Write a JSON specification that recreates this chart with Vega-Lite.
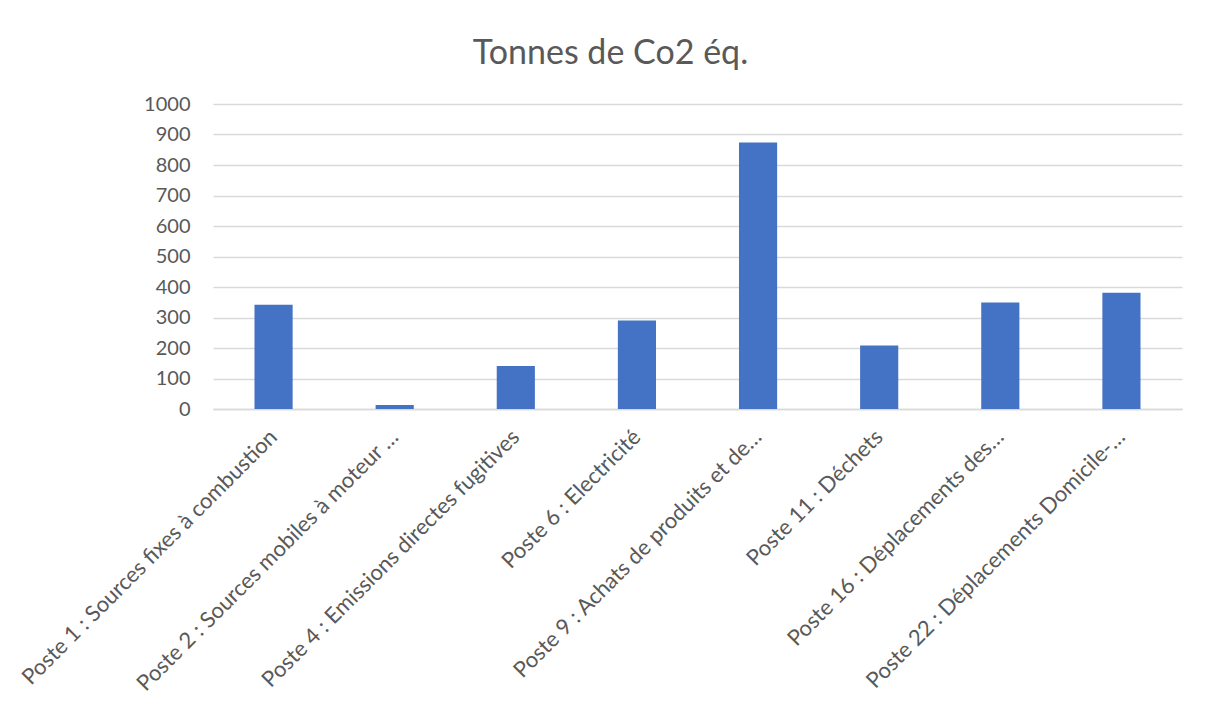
{
  "$schema": "https://vega.github.io/schema/vega-lite/v6.json",
  "autosize": "none",
  "width": 969,
  "height": 305,
  "padding": {"left": 213, "top": 104, "right": 24, "bottom": 302},
  "background": "white",
  "title": {
    "text": "Tonnes de Co2 éq.",
    "font": "Lato",
    "fontSize": 34,
    "fontWeight": "normal",
    "color": "#595959",
    "anchor": "middle",
    "dx": -87,
    "offset": 23
  },
  "data": {
    "values": [
      {"poste": "Poste 1 : Sources fixes à combustion", "t": 342},
      {"poste": "Poste 2 : Sources mobiles à moteur …", "t": 13},
      {"poste": "Poste 4 : Emissions directes fugitives", "t": 141},
      {"poste": "Poste 6 : Electricité", "t": 290},
      {"poste": "Poste 9 : Achats de produits et de…", "t": 874},
      {"poste": "Poste 11 : Déchets", "t": 208},
      {"poste": "Poste 16 : Déplacements des…", "t": 349},
      {"poste": "Poste 22 : Déplacements Domicile-…", "t": 381}
    ]
  },
  "mark": {"type": "bar", "color": "#4472C4"},
  "encoding": {
    "x": {
      "field": "poste",
      "type": "nominal",
      "sort": null,
      "scale": {"paddingInner": 0.685, "paddingOuter": 0.3425},
      "axis": {
        "title": null,
        "labelAngle": -45,
        "labelAlign": "right",
        "labelBaseline": "middle",
        "labelFont": "Lato",
        "labelFontSize": 22,
        "labelColor": "#595959",
        "labelPadding": 24,
        "labelLimit": 500,
        "ticks": false,
        "domainColor": "#d9d9d9",
        "domainWidth": 1.5
      }
    },
    "y": {
      "field": "t",
      "type": "quantitative",
      "scale": {"domain": [0, 1000]},
      "axis": {
        "title": null,
        "format": "d",
        "values": [0, 100, 200, 300, 400, 500, 600, 700, 800, 900, 1000],
        "labelFont": "Lato",
        "labelFontSize": 20,
        "labelColor": "#595959",
        "labelPadding": 23,
        "ticks": false,
        "domain": false,
        "gridColor": "#d9d9d9",
        "gridWidth": 1.5
      }
    }
  },
  "config": {"view": {"stroke": null}}
}
